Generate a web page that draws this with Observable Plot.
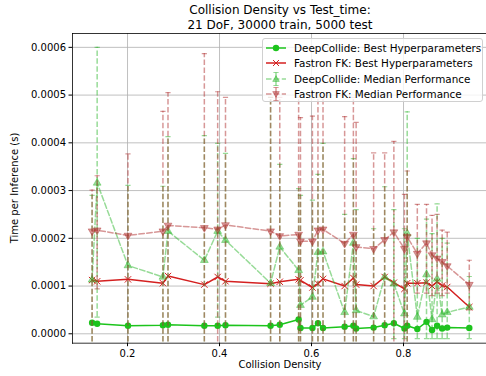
<!DOCTYPE html>
<html><head><meta charset="utf-8">
<script src="https://cdn.jsdelivr.net/npm/d3@7"></script>
<script src="https://cdn.jsdelivr.net/npm/@observablehq/plot@0.6"></script>
<style>
body{margin:0;background:#fff;}
#wrap{position:relative;width:486px;height:376px;overflow:hidden;font-family:"DejaVu Sans",sans-serif;color:#000;}
#wrap > svg{position:absolute;left:0;top:0;}
.title{position:absolute;left:72px;width:416px;top:3px;text-align:center;font-size:12px;line-height:15px;}
.xlabel{position:absolute;left:72px;width:416px;top:359px;text-align:center;font-size:10px;line-height:12px;}
.ylabel{position:absolute;left:15px;top:188px;font-size:10px;line-height:12px;white-space:nowrap;transform:translate(-50%,-50%) rotate(-90deg);}
.legend{position:absolute;left:262px;top:38px;width:219px;height:62px;border:1px solid #d0d0d0;border-radius:3px;background:rgba(255,255,255,0.8);font-size:10.4px;}
.row{position:absolute;left:3px;height:14px;display:flex;align-items:center;white-space:nowrap;}
.row svg{display:block;margin-right:8px;flex:none;}
</style></head><body>
<div id="wrap">
  <div class="title">Collision Density vs Test_time:<br>21 DoF, 30000 train, 5000 test</div>
  <div class="xlabel">Collision Density</div>
  <div class="ylabel">Time per Inference (s)</div>
</div>
<script>
// ---- data (seconds) ----
const density = [0.123,0.134,0.201,0.277,0.288,0.367,0.396,0.413,0.511,0.531,0.572,0.576,0.602,0.614,0.625,0.672,0.691,0.697,0.735,0.759,0.779,0.802,0.808,0.830,0.850,0.862,0.873,0.884,0.895,0.943];
const dcBest = [0.23e-4,0.21e-4,0.17e-4,0.18e-4,0.19e-4,0.17e-4,0.17e-4,0.18e-4,0.17e-4,0.19e-4,0.30e-4,0.12e-4,0.12e-4,0.22e-4,0.12e-4,0.15e-4,0.17e-4,0.11e-4,0.13e-4,0.18e-4,0.22e-4,0.11e-4,0.17e-4,0.10e-4,0.25e-4,0.08e-4,0.17e-4,0.11e-4,0.13e-4,0.12e-4];
const fkBest = [1.125e-4,1.10e-4,1.14e-4,1.06e-4,1.21e-4,1.03e-4,1.19e-4,1.10e-4,1.05e-4,1.09e-4,1.14e-4,1.12e-4,0.97e-4,1.05e-4,1.15e-4,1.00e-4,1.17e-4,1.03e-4,1.00e-4,1.19e-4,1.07e-4,0.94e-4,1.06e-4,1.06e-4,1.07e-4,1.00e-4,1.09e-4,1.01e-4,0.98e-4,0.56e-4];
const dcMed = [1.13e-4,3.16e-4,1.43e-4,1.19e-4,2.15e-4,1.54e-4,2.15e-4,1.96e-4,1.06e-4,1.82e-4,1.33e-4,0.60e-4,0.77e-4,1.71e-4,1.72e-4,0.45e-4,1.90e-4,0.49e-4,0.36e-4,1.19e-4,1.05e-4,0.42e-4,2.10e-4,0.35e-4,1.24e-4,0.30e-4,1.15e-4,0.40e-4,0.45e-4,0.56e-4];
const dcLow = [-1e-4,0.35e-4,-1e-4,-1e-4,-1e-4,-1e-4,0.35e-4,-1e-4,-1e-4,-1e-4,-1e-4,-1e-4,-1e-4,-1e-4,-1e-4,-1e-4,-1e-4,-1e-4,-1e-4,-1e-4,-0.1e-4,-0.1e-4,-1e-4,-0.1e-4,-0.1e-4,-0.1e-4,-0.1e-4,-0.1e-4,-0.1e-4,-0.1e-4];
const dcHigh = [2.9e-4,6.0e-4,3.11e-4,3.09e-4,4.13e-4,4.15e-4,3.99e-4,3.78e-4,4.95e-4,3.55e-4,3.04e-4,2.9e-4,2.8e-4,3.34e-4,3.99e-4,2.5e-4,3.67e-4,2.6e-4,2.2e-4,3.08e-4,2.6e-4,2.2e-4,4.65e-4,2.0e-4,2.4e-4,2.1e-4,2.72e-4,2.0e-4,1.9e-4,1.2e-4];
const fkMed = [2.15e-4,2.17e-4,2.06e-4,2.15e-4,2.27e-4,2.22e-4,2.19e-4,2.28e-4,2.15e-4,2.05e-4,2.08e-4,1.94e-4,1.94e-4,2.17e-4,2.19e-4,1.89e-4,2.08e-4,1.82e-4,1.78e-4,1.97e-4,2.13e-4,1.78e-4,2.03e-4,1.68e-4,1.90e-4,1.65e-4,1.58e-4,1.51e-4,1.42e-4,1.03e-4];
const fkLow = [-1e-4,0.94e-4,-1e-4,-1e-4,-1e-4,-1e-4,-1e-4,-1e-4,-1e-4,-1e-4,-1e-4,-1e-4,-1e-4,-1e-4,-1e-4,-1e-4,-1e-4,-1e-4,-1e-4,-1e-4,-1e-4,-1e-4,-1e-4,0.85e-4,0.85e-4,0.8e-4,0.85e-4,0.8e-4,0.85e-4,0.5e-4];
const fkHigh = [3.01e-4,3.31e-4,3.77e-4,4.66e-4,5.05e-4,5.87e-4,5.07e-4,4.95e-4,4.95e-4,4.95e-4,4.95e-4,4.53e-4,4.56e-4,4.95e-4,4.95e-4,4.55e-4,4.95e-4,4.43e-4,3.79e-4,3.79e-4,4.03e-4,2.92e-4,3.41e-4,2.71e-4,2.71e-4,2.48e-4,2.5e-4,2.17e-4,2.13e-4,1.54e-4];
const xTicks = [0.2, 0.4, 0.6, 0.8];
const yTicks = [0, 0.0001, 0.0002, 0.0003, 0.0004, 0.0005, 0.0006];
const seriesNames = ["DeepCollide: Best Hyperparameters","Fastron FK: Best Hyperparameters","DeepCollide: Median Performance","Fastron FK: Median Performance"];

const rows = density.map((x,i)=>({x, dcBest:dcBest[i], fkBest:fkBest[i], dcMed:dcMed[i], dcLow:dcLow[i], dcHigh:dcHigh[i], fkMed:fkMed[i], fkLow:fkLow[i], fkHigh:fkHigh[i]}));

const G="#1cc41c", R="#d42020", GM="#30b830", RM="#b03030";
const A=0.5, dash="5.5,2.4";
const hline = {draw(ctx,size){const r=Math.sqrt(size/Math.PI); ctx.moveTo(-r,0); ctx.lineTo(r,0);}};

function median(key,lo,hi,color,rot){
  return [
    Plot.ruleX(rows,{x:"x",y1:lo,y2:hi,stroke:color,strokeOpacity:A,strokeWidth:1.5,strokeDasharray:dash,clip:true}),
    Plot.dot(rows,{x:"x",y:hi,symbol:hline,r:2.6,fill:"none",stroke:color,strokeOpacity:A,strokeWidth:1.2,clip:true}),
    Plot.dot(rows,{x:"x",y:lo,symbol:hline,r:2.6,fill:"none",stroke:color,strokeOpacity:A,strokeWidth:1.2,clip:true}),
    Plot.line(rows,{x:"x",y:key,stroke:color,strokeOpacity:A,strokeWidth:1.5,strokeDasharray:dash}),
    Plot.dot(rows,{x:"x",y:key,symbol:"triangle",rotate:rot,r:2.9,fill:color,fillOpacity:A,stroke:color,strokeOpacity:A,strokeWidth:0.8})
  ];
}

const chart = Plot.plot({
  width:486, height:376, marginLeft:72, marginRight:0, marginTop:33, marginBottom:33.3,
  style:{fontFamily:"DejaVu Sans", fontSize:"10px", color:"black", background:"transparent"},
  x:{domain:[0.0804,0.9804]},
  y:{domain:[-0.0000197,0.000629]},
  marks:[
    Plot.gridX(xTicks,{stroke:"#b0b0b0",strokeOpacity:1,strokeWidth:0.8}),
    Plot.gridY(yTicks,{stroke:"#b0b0b0",strokeOpacity:1,strokeWidth:0.8}),
    Plot.line(rows,{x:"x",y:"dcBest",stroke:G,strokeWidth:1.5}),
    Plot.dot(rows,{x:"x",y:"dcBest",symbol:"circle",r:3.2,fill:G}),
    Plot.line(rows,{x:"x",y:"fkBest",stroke:R,strokeWidth:1.5}),
    Plot.dot(rows,{x:"x",y:"fkBest",symbol:"times",r:3,stroke:R,strokeWidth:1}),
    ...median("dcMed","dcLow","dcHigh",GM,0),
    ...median("fkMed","fkLow","fkHigh",RM,180),
    Plot.frame({anchor:"left",stroke:"black",strokeWidth:0.8}),
    Plot.frame({anchor:"bottom",stroke:"black",strokeWidth:0.8}),
    Plot.frame({anchor:"top",stroke:"black",strokeWidth:0.8}),
    Plot.axisX({ticks:xTicks,tickFormat:d=>d.toFixed(1),tickSize:3.5,tickPadding:3,label:null,fontSize:10}),
    Plot.axisY({ticks:yTicks,tickFormat:d=>d.toFixed(4),tickSize:3.5,tickPadding:3,label:null,fontSize:10})
  ]
});
const wrap=document.getElementById("wrap");
wrap.insertBefore(chart, wrap.firstChild);

// legend
const leg=document.createElement("div"); leg.className="legend";
function handle(i){
  const dashAttr = i>=2 ? `stroke-dasharray="${dash}"` : "";
  const col = [G,R,GM,RM][i], op = i>=2 ? A : 1;
  let s=`<svg width="20" height="14"><line x1="0" y1="7" x2="20" y2="7" stroke="${col}" stroke-width="1.5" stroke-opacity="${op}" ${dashAttr}/>`;
  if(i===0) s+=`<circle cx="10" cy="7" r="3.2" fill="${col}"/>`;
  if(i===1) s+=`<path d="M7,4L13,10M13,4L7,10" stroke="${col}" stroke-width="1"/>`;
  if(i>=2){
    s+=`<line x1="10" y1="0.5" x2="10" y2="13.5" stroke="${col}" stroke-opacity="${op}" stroke-width="1.5" ${dashAttr}/>`;
    s+=`<path d="M7.4,0.5H12.6M7.4,13.5H12.6" stroke="${col}" stroke-opacity="${op}" stroke-width="1.2"/>`;
    const tri = i===2 ? "M10,3.6L13.3,9.4L6.7,9.4Z" : "M10,10.4L13.3,4.6L6.7,4.6Z";
    s+=`<path d="${tri}" fill="${col}" fill-opacity="${op}" stroke="${col}" stroke-opacity="${op}" stroke-width="0.8"/>`;
  }
  return s+"</svg>";
}
const rowTops=[2,17.3,32.5,47.8];
seriesNames.forEach((n,i)=>{
  const r=document.createElement("div"); r.className="row"; r.style.top=rowTops[i]+"px";
  r.innerHTML=handle(i)+`<span>${n}</span>`; leg.appendChild(r);
});
wrap.appendChild(leg);
</script>
</body></html>
